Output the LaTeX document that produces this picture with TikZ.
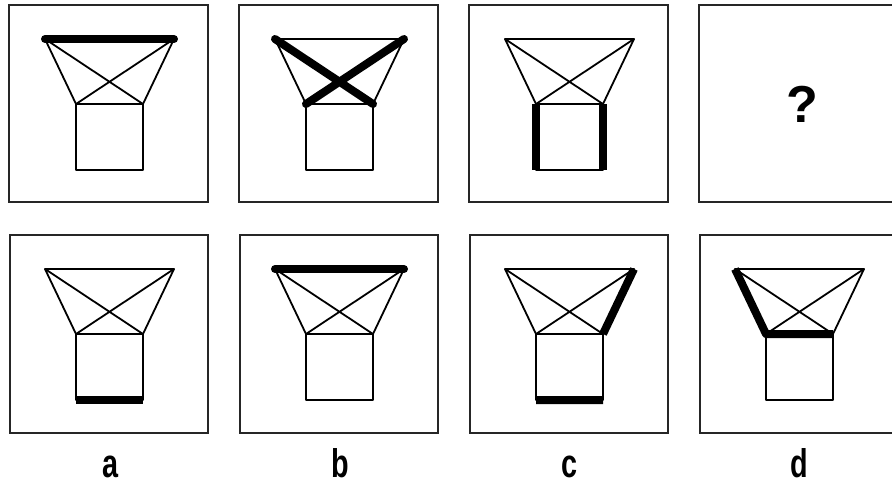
\documentclass[tikz,border=0pt]{standalone}
\usepackage{fontspec}
\setmainfont{Liberation Sans}
\begin{document}
\begin{tikzpicture}[x=1pt,y=-1pt,
  frame/.style={draw=black!85,line width=2.4pt},
  edge/.style={line width=1.8pt,line join=round},
  heavy/.style={line width=8pt,line join=round},
  lbl/.style={font=\bfseries\fontsize{40}{40}\selectfont,xscale=0.72,anchor=base,inner sep=0pt}]
\useasboundingbox (0,0) rectangle (892,484);
\clip (0,0) rectangle (892,484);
% rahmen
\foreach \x in {0,230,460,690}{
  \draw[frame] (\x+9,5) rectangle (\x+208,202);
  \draw[frame] (\x+10,235) rectangle (\x+208,433);
}
% figuren
\foreach \nm/\x/\y in {p1/0/0,p2/230/0,p3/460/0,q1/0/230,q2/230/230,q3/460/230,q4/690/230}{
  \coordinate (\nm-tl) at (\x+45,\y+39);
  \coordinate (\nm-tr) at (\x+174,\y+39);
  \coordinate (\nm-bl) at (\x+76,\y+104);
  \coordinate (\nm-br) at (\x+143,\y+104);
  \coordinate (\nm-sl) at (\x+76,\y+170);
  \coordinate (\nm-sr) at (\x+143,\y+170);
  \draw[edge] (\nm-tl) -- (\nm-tr) -- (\nm-br) -- (\nm-bl) -- cycle;
  \draw[edge] (\nm-tl) -- (\nm-br) (\nm-tr) -- (\nm-bl);
  \draw[edge] (\nm-bl) -- (\nm-sl) -- (\nm-sr) -- (\nm-br);
}
% dicke linien
\draw[heavy,line cap=round] (p1-tl) -- (p1-tr);
\draw[heavy,line cap=round] (p2-tl) -- (p2-br) (p2-tr) -- (p2-bl);
\draw[heavy] (p3-bl) -- (p3-sl) (p3-br) -- (p3-sr);
\draw[heavy] (q1-sl) -- (q1-sr);
\draw[heavy,line cap=round] (q2-tl) -- (q2-tr);
\draw[heavy] (q3-tr) -- (q3-br) (q3-sl) -- (q3-sr);
\draw[heavy] (q4-tl) -- (q4-bl) -- (q4-br);
% fragezeichen und buchstaben
\node[font=\bfseries\fontsize{52}{52}\selectfont] (qm) at (802,104) {?};
\node[lbl] (la) at (111,477) {a};
\node[lbl] (lb) at (340,477) {b};
\node[lbl] (lc) at (570,477) {c};
\node[lbl] (ld) at (799,477) {d};
\end{tikzpicture}
\end{document}
